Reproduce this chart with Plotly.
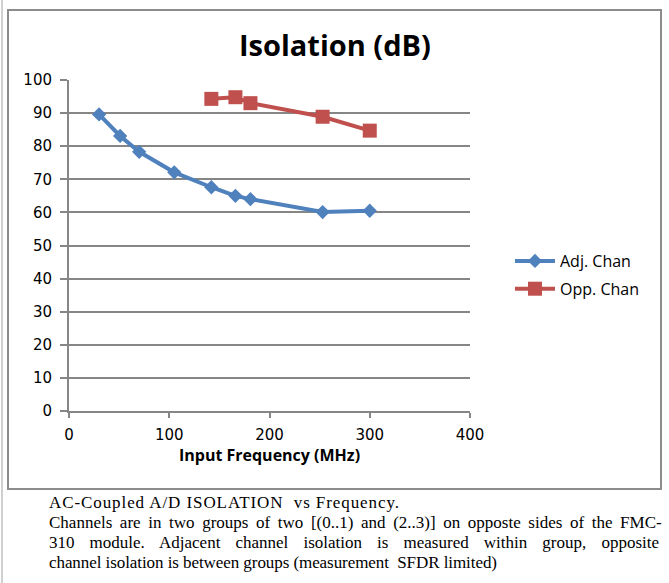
import plotly.graph_objects as go

# Data
adj_freq = [30, 51, 70, 105, 142, 166, 181, 253, 300]
adj_iso = [89.6, 83.1, 78.3, 72.1, 67.6, 65.0, 64.0, 60.1, 60.5]
opp_freq = [142, 166, 181, 253, 300]
opp_iso = [94.3, 94.8, 93.0, 88.9, 84.7]

x_ticks = [0, 100, 200, 300, 400]
y_ticks = [0, 10, 20, 30, 40, 50, 60, 70, 80, 90, 100]

W, H = 669, 583
L, R, T, B = 69, 470, 80, 411  # plot area in pixels


def px(x):
    return (x - L) / (R - L)


def py(y):
    return (B - y) / (B - T)


fig = go.Figure()
fig.add_trace(go.Scatter(
    x=adj_freq, y=adj_iso, name="Adj. Chan", mode="lines+markers", legendgroup="a",
    line=dict(color="#4F81BD", width=4),
    marker=dict(symbol="diamond", size=11, color="#4F81BD"),
))
fig.add_trace(go.Scatter(
    x=opp_freq, y=opp_iso, name="Opp. Chan", mode="lines+markers", legendgroup="b",
    line=dict(color="#C0504D", width=4),
    marker=dict(symbol="square", size=14, color="#C0504D"),
))

grid = "#868686"
font_sans = "Open Sans"
tick_font = dict(family="DejaVu Sans", size=15, color="#000")

fig.update_xaxes(
    range=[0, 400], tickvals=x_ticks, showgrid=False, zeroline=False,
    showline=True, linecolor=grid, linewidth=2,
    ticks="outside", ticklen=5, tickwidth=2, tickcolor=grid,
    tickfont=tick_font, ticklabelstandoff=4,
    title=dict(text="<b>Input Frequency (MHz)</b>", font=dict(family=font_sans, size=16, color="#000"), standoff=3),
)
fig.update_yaxes(
    range=[0, 100], tickvals=y_ticks, showgrid=True, gridcolor=grid, gridwidth=2,
    zeroline=False, showline=True, linecolor=grid, linewidth=2,
    ticks="outside", ticklen=7, tickwidth=2, tickcolor=grid,
    tickfont=tick_font, ticklabelstandoff=5,
)

shapes = [
    dict(type="rect", xref="paper", yref="paper",
         x0=px(8), x1=px(661), y0=py(489), y1=py(10),
         line=dict(color="#8c8c8c", width=2), fillcolor="rgba(0,0,0,0)", layer="below"),
    dict(type="line", xref="paper", yref="paper",
         x0=px(2), x1=px(2), y0=py(583), y1=py(0),
         line=dict(color="#a0a0a0", width=1)),
]

footer_lines = [
    "AC-Coupled A/D ISOLATION  vs Frequency.",
    "Channels are in two groups of two [(0..1) and (2..3)] on opposte sides of the FMC-",
    "310 module. Adjacent channel isolation is measured within group, opposite",
    "channel isolation is between groups (measurement  SFDR limited)",
]
footer_y = [502, 522, 542, 562]
footer_w = [350, 613, 610, 448]
footer_mode = ["l", "w", "w", "l"]  # letter- or word-spacing adjustment

annotations = [
    dict(text="<b>Isolation (dB)</b>", xref="paper", yref="paper", x=px(335), y=py(44),
         xanchor="center", yanchor="middle", showarrow=False,
         font=dict(family=font_sans, size=29, color="#000")),
]
for txt, yy in zip(footer_lines, footer_y):
    annotations.append(dict(text=txt, xref="paper", yref="paper", x=px(47), y=py(yy),
                            xanchor="left", yanchor="middle", showarrow=False,
                            font=dict(family="Liberation Serif", size=17, color="#000")))

fig.update_layout(
    width=W, height=H, autosize=False,
    margin=dict(l=L, r=W - R, t=T, b=H - B),
    paper_bgcolor="white", plot_bgcolor="white",
    showlegend=True,
    legend=dict(x=px(510), y=py(244), xanchor="left", yanchor="top",
                font=dict(family=font_sans, size=16, color="#000"),
                bgcolor="rgba(0,0,0,0)", traceorder="grouped", tracegroupgap=4, itemwidth=40),
    shapes=shapes, annotations=annotations,
)

# justify the caption lines to the widths measured in the reference
js_items = ",".join('[%r,%d,%r]' % (t, w, m) for t, w, m in zip(footer_lines, footer_w, footer_mode))
post = """
document.body.style.margin='0';
var gd=document.getElementById('{plot_id}');
var targets=[%s];
function norm(s){return s.replace(/[\\u00a0 ]/g,' ');}
gd.querySelectorAll('text.annotation-text').forEach(function(t){
  var s=norm(t.textContent);
  targets.forEach(function(p){
    if(norm(p[0])===s){
      var b0=t.getBBox();
      if(p[2]==='w'){
        var n=(s.match(/ /g)||[]).length;
        t.style.wordSpacing=((p[1]-b0.width)/n)+'px';
      } else {
        var n=s.length-1;
        t.style.letterSpacing=((p[1]-b0.width)/n)+'px';
      }
      var b1=t.getBBox();
      var dx=b0.x-b1.x;
      var tr=t.getAttribute('transform')||'';
      t.setAttribute('transform', tr+' translate('+dx+',0)');
    }
  });
});
""" % js_items

fig.write_html("out.html", post_script=post, config={"displayModeBar": False})
